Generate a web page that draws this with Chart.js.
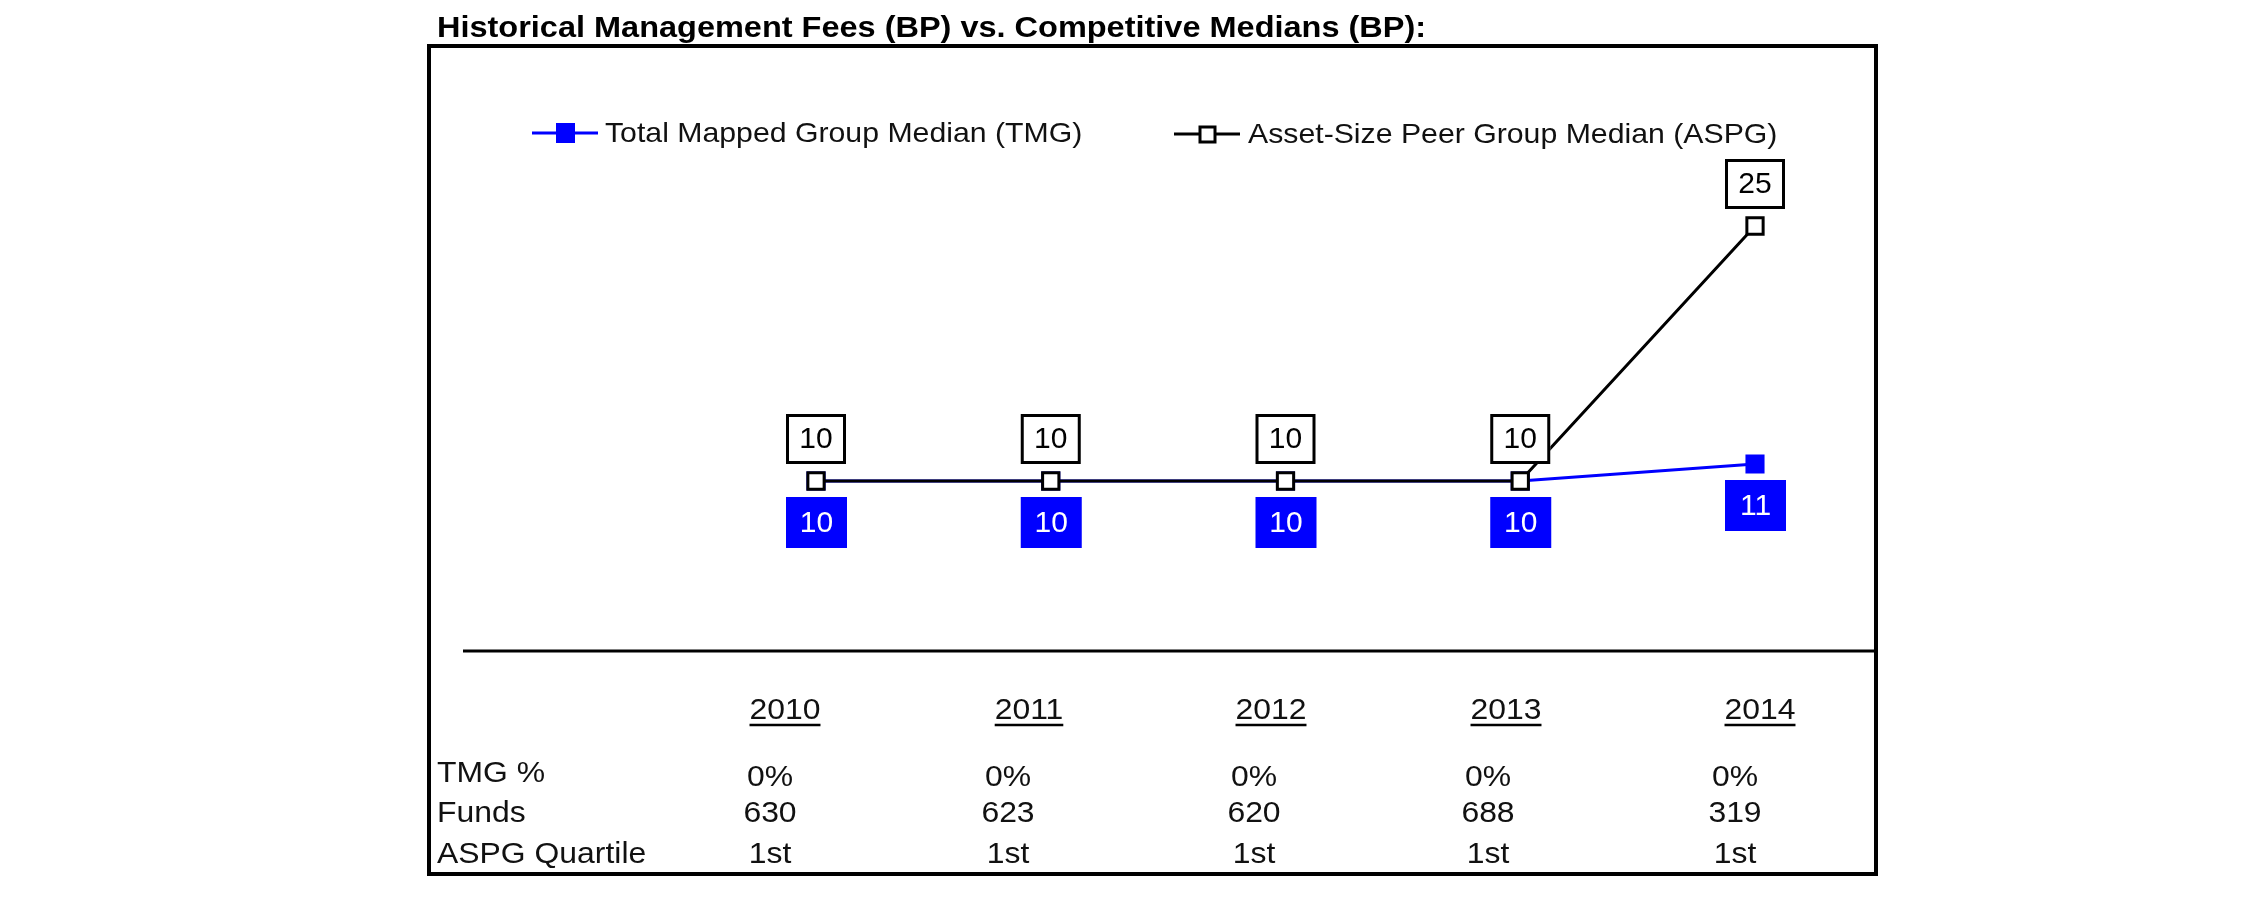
<!DOCTYPE html>
<html>
<head>
<meta charset="utf-8">
<script src="https://cdn.jsdelivr.net/npm/chart.js@4.4.1/dist/chart.umd.min.js"></script>
<style>
  body { margin: 0; background: #fff; }
  canvas { display: block; }
</style>
</head>
<body>
<canvas id="myChart" width="2251" height="898"></canvas>
<script>
var years = ['2010', '2011', '2012', '2013', '2014'];
var tmgValues = [10, 10, 10, 10, 11];
var aspgValues = [10, 10, 10, 10, 25];
var tmgPct = ['0%', '0%', '0%', '0%', '0%'];
var funds = ['630', '623', '620', '688', '319'];
var quartiles = ['1st', '1st', '1st', '1st', '1st'];
var rowLabels = ['TMG %', 'Funds', 'ASPG Quartile'];
var titleText = 'Historical Management Fees (BP) vs. Competitive Medians (BP):';
var legendLabels = ['Total Mapped Group Median (TMG)', 'Asset-Size Peer Group Median (ASPG)'];

var BLUE = '#0000ff';
var FONT = '"Liberation Sans", Arial, sans-serif';

// text helper, the source text is a bit wider than Arial
function txt(ctx, s, x, y, size, align, sx, bold, color) {
    ctx.save();
    ctx.font = (bold ? 'bold ' : '') + size + 'px ' + FONT;
    ctx.fillStyle = color || '#000';
    ctx.textBaseline = 'alphabetic';
    var w = ctx.measureText(s).width * sx;
    var left = align === 'center' ? x - w / 2 : x;
    ctx.translate(left, y);
    ctx.scale(sx, 1);
    ctx.fillText(s, 0, 0);
    ctx.restore();
    return { left: left, width: w };
}

var decor = {
    id: 'decor',
    beforeDraw: function (chart) {
        var ctx = chart.ctx;
        ctx.save();
        ctx.fillStyle = '#fff';
        ctx.fillRect(0, 0, chart.width, chart.height);
        // title + frame
        txt(ctx, titleText, 437, 37, 29, 'left', 1.12, true);
        ctx.strokeStyle = '#000';
        ctx.lineWidth = 4;
        ctx.strokeRect(429, 46, 1447, 828);
        // base rule at y = 0
        var y0 = chart.scales.y.getPixelForValue(0);
        ctx.lineWidth = 3;
        ctx.beginPath();
        ctx.moveTo(463, y0);
        ctx.lineTo(1876, y0);
        ctx.stroke();

        // legend
        ctx.strokeStyle = BLUE;
        ctx.beginPath();
        ctx.moveTo(532, 133);
        ctx.lineTo(598, 133);
        ctx.stroke();
        ctx.fillStyle = BLUE;
        ctx.fillRect(556, 123, 19, 20);
        txt(ctx, legendLabels[0], 605, 142, 28, 'left', 1.08, false, '#111');

        ctx.strokeStyle = '#000';
        ctx.beginPath();
        ctx.moveTo(1174, 134);
        ctx.lineTo(1240, 134);
        ctx.stroke();
        ctx.fillStyle = '#fff';
        ctx.fillRect(1200, 127, 15, 15);
        ctx.strokeRect(1200, 127, 15, 15);
        txt(ctx, legendLabels[1], 1248, 143, 28, 'left', 1.08, false, '#111');

        // table under the chart
        var yearX = [785, 1029, 1271, 1506, 1760];
        var valX = [770, 1008, 1254, 1488, 1735];
        ctx.lineWidth = 2.5;
        for (var i = 0; i < years.length; i++) {
            var r = txt(ctx, years[i], yearX[i], 719, 29, 'center', 1.1, false, '#111');
            ctx.beginPath();
            ctx.moveTo(r.left, 725);
            ctx.lineTo(r.left + r.width, 725);
            ctx.stroke();
            txt(ctx, tmgPct[i], valX[i], 786, 29, 'center', 1.1, false, '#111');
            txt(ctx, funds[i], valX[i], 822, 29, 'center', 1.1, false, '#111');
            txt(ctx, quartiles[i], valX[i], 863, 29, 'center', 1.1, false, '#111');
        }
        txt(ctx, rowLabels[0], 437, 782, 29, 'left', 1.1, false, '#111');
        txt(ctx, rowLabels[1], 437, 822, 29, 'left', 1.1, false, '#111');
        txt(ctx, rowLabels[2], 437, 863, 29, 'left', 1.1, false, '#111');
        ctx.restore();
    },
    afterDatasetsDraw: function (chart) {
        var ctx = chart.ctx;
        ctx.save();
        var tmgPts = chart.getDatasetMeta(0).data;
        var aspgPts = chart.getDatasetMeta(1).data;
        ctx.font = '30px ' + FONT;
        ctx.textAlign = 'center';
        ctx.textBaseline = 'middle';
        aspgPts.forEach(function (p, i) {
            var bx = p.x - 30, by = p.y - 17 - 50;
            ctx.fillStyle = '#fff';
            ctx.fillRect(bx, by, 60, 50);
            ctx.strokeStyle = '#000';
            ctx.lineWidth = 3;
            ctx.strokeRect(bx + 1.5, by + 1.5, 57, 47);
            ctx.fillStyle = '#000';
            ctx.fillText(String(aspgValues[i]), p.x, by + 26);
        });
        tmgPts.forEach(function (p, i) {
            var bx = p.x - 30, by = p.y + 16;
            ctx.fillStyle = BLUE;
            ctx.fillRect(bx, by, 61, 51);
            ctx.fillStyle = '#fff';
            ctx.fillText(String(tmgValues[i]), p.x + 0.5, by + 27);
        });
        ctx.restore();
    }
};

new Chart('myChart', {
    type: 'line',
    data: {
        labels: years,
        datasets: [{
            label: legendLabels[0],
            data: tmgValues,
            borderColor: BLUE,
            backgroundColor: BLUE,
            borderWidth: 3,
            pointStyle: 'rect',
            pointRadius: 13.5,
            pointBorderWidth: 0,
            fill: false,
            tension: 0,
            order: 1
        }, {
            label: legendLabels[1],
            data: aspgValues,
            borderColor: '#000',
            backgroundColor: '#fff',
            borderWidth: 3,
            pointStyle: 'rect',
            pointRadius: 11.5,
            pointBorderWidth: 3,
            pointBorderColor: '#000',
            pointBackgroundColor: '#fff',
            fill: false,
            tension: 0,
            order: 0
        }]
    },
    options: {
        responsive: false,
        animation: false,
        layout: { padding: { left: 816, right: 496, top: 141, bottom: 247 } },
        scales: {
            x: { display: false, offset: false },
            y: { display: false, min: 0, max: 30 }
        },
        plugins: {
            legend: { display: false },
            tooltip: { enabled: false }
        }
    },
    plugins: [decor]
});
</script>
</body>
</html>
